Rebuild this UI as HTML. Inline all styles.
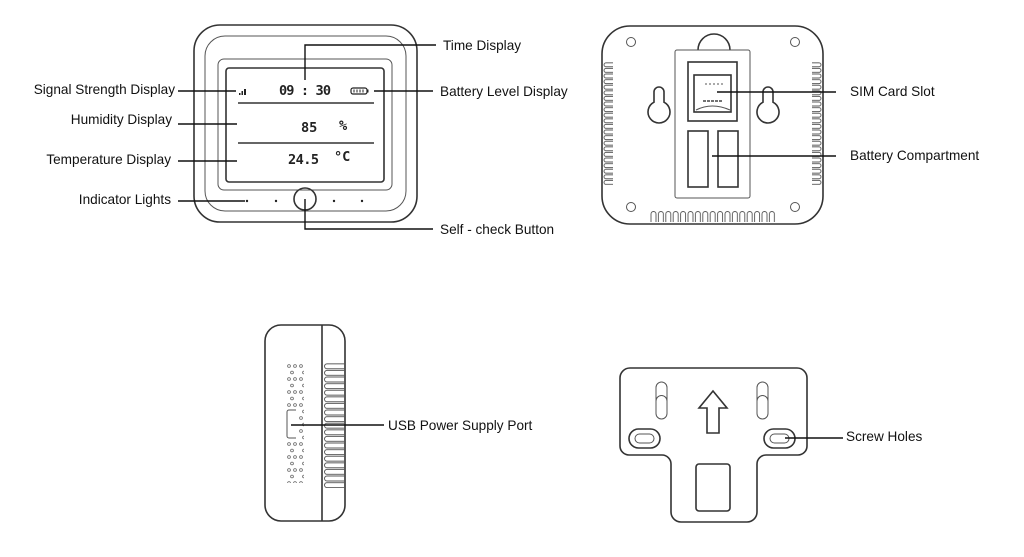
<!DOCTYPE html>
<html><head><meta charset="utf-8"><style>
html,body{margin:0;padding:0;background:#fff;width:1024px;height:557px;overflow:hidden}
svg{display:block}
text{font-family:"Liberation Sans",sans-serif;font-size:13.6px;fill:#111}
.d{fill:none;stroke:#333;stroke-width:1.6}
.t{fill:none;stroke:#555;stroke-width:1}
.l{stroke:#111;stroke-width:1.4;fill:none}
.lcd{font-family:"DejaVu Sans Mono","Liberation Mono",monospace;font-weight:bold;fill:#222}
</style></head><body>
<svg width="1024" height="557" viewBox="0 0 1024 557">
<defs>
<pattern id="vl" x="603" y="62" width="10" height="5.6" patternUnits="userSpaceOnUse">
<path d="M10 0.8 H3 A2 2 0 0 0 3 4.8 H10" fill="none" stroke="#555" stroke-width="0.9"/></pattern>
<pattern id="vr" x="812" y="62" width="10" height="5.6" patternUnits="userSpaceOnUse">
<path d="M0 0.8 H7 A2 2 0 0 1 7 4.8 H0" fill="none" stroke="#555" stroke-width="0.9"/></pattern>
<pattern id="vb" x="650" y="208" width="7.4" height="16" patternUnits="userSpaceOnUse">
<path d="M1 16 V6 A2.5 2.5 0 0 1 6 6 V16" fill="none" stroke="#555" stroke-width="0.9"/></pattern>
<pattern id="fin" x="324" y="363" width="22" height="6.6" patternUnits="userSpaceOnUse">
<path d="M22 0.8 H3 A2.5 2.5 0 0 0 3 5.8 H22" fill="none" stroke="#555" stroke-width="0.9"/></pattern>
<pattern id="dots" x="286" y="363" width="12" height="13" patternUnits="userSpaceOnUse">
<circle cx="3" cy="3" r="1.4" fill="none" stroke="#666" stroke-width="0.8"/>
<circle cx="9" cy="3" r="1.4" fill="none" stroke="#666" stroke-width="0.8"/>
<circle cx="6" cy="9.5" r="1.4" fill="none" stroke="#666" stroke-width="0.8"/></pattern>
</defs>

<!-- FRONT DEVICE -->
<rect class="d" x="194" y="25" width="223" height="197" rx="26"/>
<rect class="t" x="205" y="36" width="201" height="175" rx="20"/>
<rect class="t" x="218" y="59" width="174" height="131" rx="6"/>
<rect class="d" x="226" y="68" width="158" height="114" rx="3"/>
<line x1="238" y1="103" x2="374" y2="103" stroke="#333" stroke-width="1.6"/>
<line x1="238" y1="143" x2="374" y2="143" stroke="#333" stroke-width="1.6"/>
<text class="lcd" x="279" y="95" font-size="15" textLength="52">09 : 30</text>
<text class="lcd" x="301" y="132" font-size="15">85</text>
<text class="lcd" x="339" y="130" font-size="7">%</text>
<text class="lcd" x="288" y="164" font-size="15" textLength="31">24.5</text>
<text class="lcd" x="334" y="161" font-size="8" font-weight="normal">°C</text>
<rect x="239" y="93" width="1.5" height="2" fill="#222"/><rect x="241.5" y="91" width="1.5" height="4" fill="#222"/><rect x="244" y="89" width="2" height="6" fill="#222"/>
<rect x="351" y="88" width="16" height="6" rx="2" fill="none" stroke="#222" stroke-width="1.2"/>
<rect x="367" y="89.5" width="1.5" height="3" fill="#222"/>
<line x1="354" y1="89.5" x2="354" y2="92.5" stroke="#222"/><line x1="357" y1="89.5" x2="357" y2="92.5" stroke="#222"/><line x1="360" y1="89.5" x2="360" y2="92.5" stroke="#222"/><line x1="363" y1="89.5" x2="363" y2="92.5" stroke="#222"/>
<circle class="d" cx="305" cy="199" r="11"/>
<circle cx="247" cy="201" r="1.2" fill="#222"/><circle cx="276" cy="201" r="1.2" fill="#222"/><circle cx="334" cy="201" r="1.2" fill="#222"/><circle cx="362" cy="201" r="1.2" fill="#222"/>
<polyline class="l" points="305,80 305,45 436,45"/>
<line class="l" x1="178" y1="91" x2="236" y2="91"/>
<line class="l" x1="178" y1="124" x2="237" y2="124"/>
<line class="l" x1="178" y1="161" x2="237" y2="161"/>
<line class="l" x1="178" y1="201" x2="245" y2="201"/>
<line class="l" x1="374" y1="91" x2="433" y2="91"/>
<polyline class="l" points="305,199 305,229 433,229"/>
<text x="175" y="94" text-anchor="end">Signal Strength Display</text>
<text x="172" y="124" text-anchor="end">Humidity Display</text>
<text x="171" y="164" text-anchor="end">Temperature Display</text>
<text x="171" y="204" text-anchor="end">Indicator Lights</text>
<text x="443" y="50">Time Display</text>
<text x="440" y="96">Battery Level Display</text>
<text x="440" y="234">Self - check Button</text>

<!-- BACK DEVICE -->
<rect class="d" x="602" y="26" width="221" height="198" rx="28" fill="#fff"/>
<path class="d" d="M698 50 A16 16 0 0 1 730 50"/>
<rect x="603" y="62" width="10" height="123" fill="url(#vl)"/>
<rect x="812" y="62" width="10" height="123" fill="url(#vr)"/>
<rect x="650" y="208" width="126" height="14" fill="url(#vb)"/>
<circle class="t" cx="631" cy="42" r="4.5" stroke-width="1.4"/><circle class="t" cx="795" cy="42" r="4.5" stroke-width="1.4"/>
<circle class="t" cx="631" cy="207" r="4.5" stroke-width="1.4"/><circle class="t" cx="795" cy="207" r="4.5" stroke-width="1.4"/>
<rect class="t" x="675" y="50" width="75" height="148" rx="2" stroke-width="1.3"/>
<rect class="d" x="688" y="62" width="49" height="59"/>
<rect class="d" x="694" y="75" width="37" height="37"/>
<line x1="705" y1="84" x2="724" y2="84" stroke="#555" stroke-dasharray="2 2"/>
<line x1="703" y1="101" x2="722" y2="101" stroke="#444" stroke-width="1.5" stroke-dasharray="3 1"/>
<path class="t" d="M696 110 Q712 102 730 110"/>
<rect class="d" x="688" y="131" width="20" height="56"/>
<rect class="d" x="718" y="131" width="20" height="56"/>
<path class="d" d="M654 92 A5 5 0 0 1 664 92 L664 102.2 A11 11 0 1 1 654 102.2 Z"/>
<path class="d" d="M763 92 A5 5 0 0 1 773 92 L773 102.2 A11 11 0 1 1 763 102.2 Z"/>
<line class="l" x1="717" y1="92" x2="836" y2="92"/>
<line class="l" x1="712" y1="156" x2="836" y2="156"/>
<text x="850" y="96">SIM Card Slot</text>
<text x="850" y="160">Battery Compartment</text>

<!-- SIDE DEVICE -->
<rect class="d" x="265" y="325" width="80" height="196" rx="16"/>
<line x1="322" y1="325" x2="322" y2="521" stroke="#333" stroke-width="1.6"/>
<rect x="324" y="363" width="21" height="125" fill="url(#fin)"/>
<rect x="286" y="363" width="18" height="120" fill="url(#dots)"/>
<rect x="285" y="408" width="12" height="32" fill="#fff"/>
<path class="t" d="M296 410 H289 A2 2 0 0 0 287 412 V436 A2 2 0 0 0 289 438 H296" stroke-width="1.2"/>
<line class="l" x1="291" y1="425" x2="384" y2="425"/>
<text x="388" y="430">USB Power Supply Port</text>

<!-- PLATE -->
<path class="d" d="M630 368 H797 A10 10 0 0 1 807 378 V446 A9 9 0 0 1 798 455 H766 A9 9 0 0 0 757 464 V512 A10 10 0 0 1 747 522 H681 A10 10 0 0 1 671 512 V464 A9 9 0 0 0 662 455 H629 A9 9 0 0 1 620 446 V378 A10 10 0 0 1 630 368 Z"/>
<rect class="t" x="656" y="382" width="11" height="37" rx="5.5" stroke-width="1.3"/>
<path class="t" d="M656 401 A5.5 5.5 0 0 1 667 401"/>
<rect class="t" x="757" y="382" width="11" height="37" rx="5.5" stroke-width="1.3"/>
<path class="t" d="M757 401 A5.5 5.5 0 0 1 768 401"/>
<rect class="d" x="629" y="429" width="31" height="19" rx="9.5"/>
<rect class="t" x="635" y="434" width="19" height="9" rx="4.5" stroke-width="1.3"/>
<rect class="d" x="764" y="429" width="31" height="19" rx="9.5"/>
<rect class="t" x="770" y="434" width="19" height="9" rx="4.5" stroke-width="1.3"/>
<path class="d" d="M713 391 L727 408 H719 V433 H707 V408 H699 Z" stroke-width="1.3"/>
<rect class="d" x="696" y="464" width="34" height="47" rx="3"/>
<line class="l" x1="785" y1="438" x2="843" y2="438"/>
<text x="846" y="441">Screw Holes</text>
</svg>
</body></html>
